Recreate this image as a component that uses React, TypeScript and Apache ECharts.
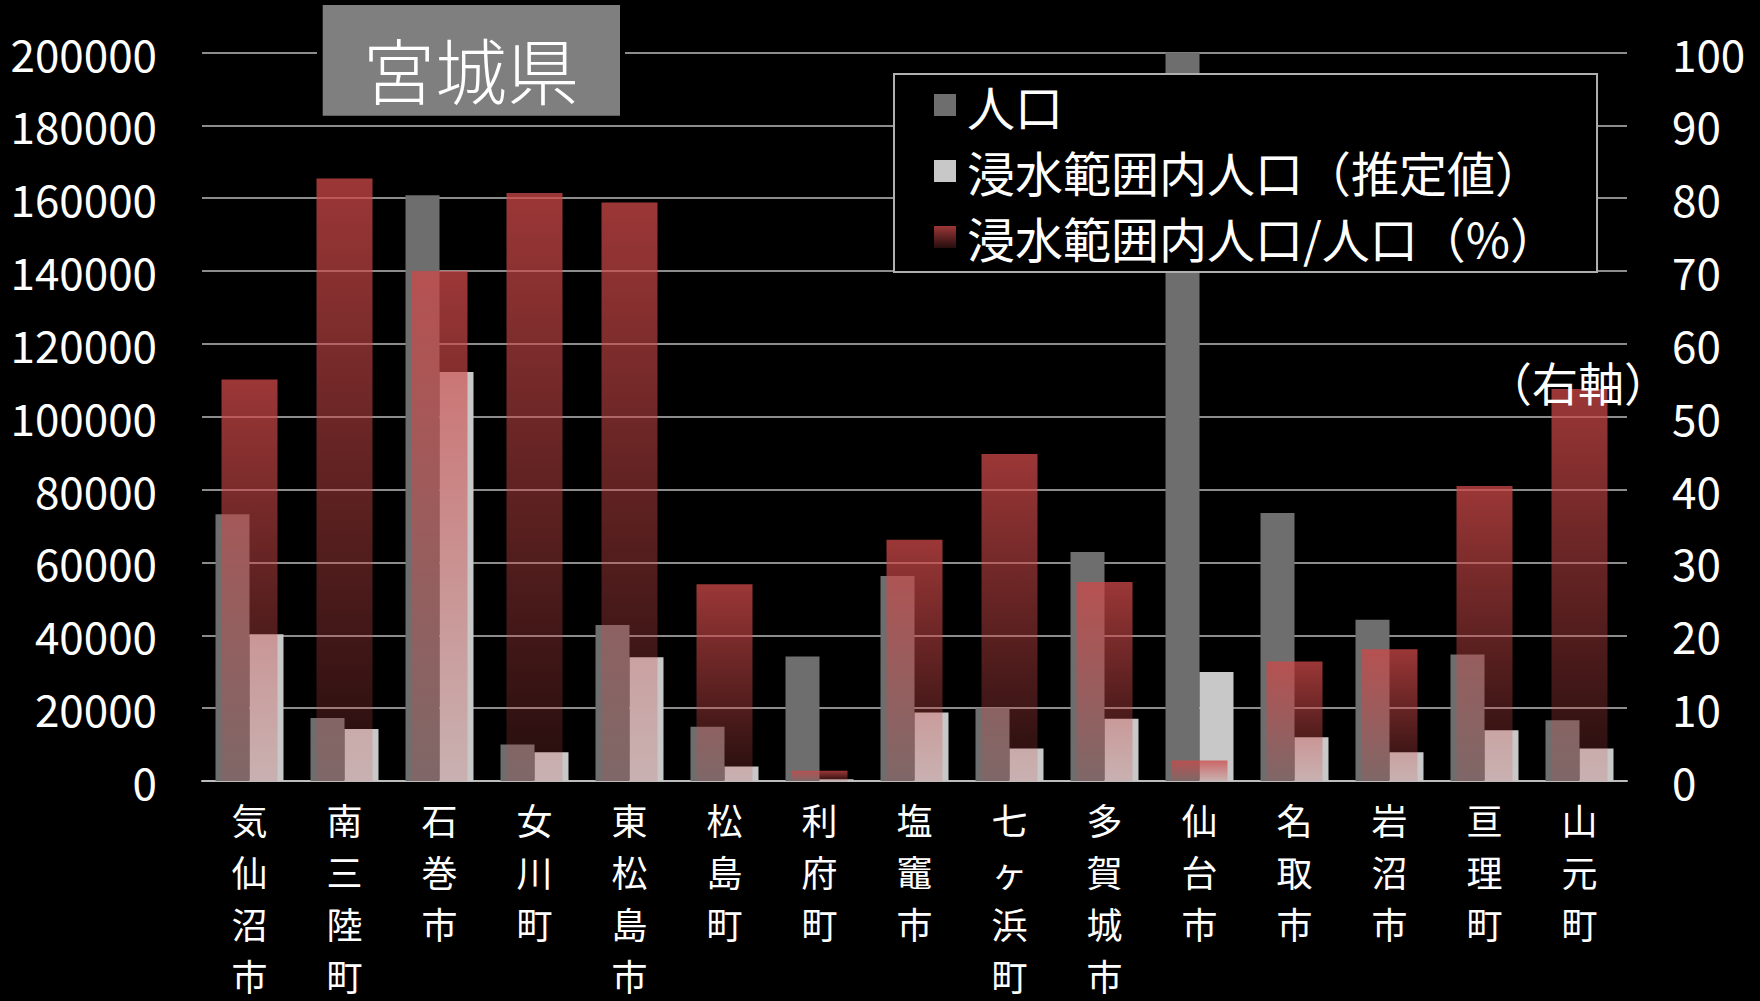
import React, { useEffect, useRef } from "react";
import * as echarts from "echarts";

const categories = ["気仙沼市", "南三陸町", "石巻市", "女川町", "東松島市", "松島町", "利府町", "塩竈市", "七ヶ浜町", "多賀城市", "仙台市", "名取市", "岩沼市", "亘理町", "山元町"];
const population = [73200, 17300, 160800, 10000, 42800, 14900, 34200, 56300, 20000, 62900, 1046000, 73600, 44300, 34700, 16700];
const inundated = [40300, 14300, 112300, 7900, 34000, 4000, 500, 18800, 8900, 17100, 29900, 12000, 7900, 13900, 8900];
const ratio = [55.1, 82.7, 70.0, 80.7, 79.4, 27.0, 1.4, 33.1, 44.9, 27.3, 2.8, 16.4, 18.1, 40.5, 53.8];
const leftTicks = { min: 0, max: 200000, interval: 20000 };
const rightTicks = { min: 0, max: 100, interval: 10 };
const seriesNames = ["人口", "浸水範囲内人口（推定値）", "浸水範囲内人口/人口（%）"];
const titleText = "宮城県";
const rightAxisNote = "（右軸）";

const FONT = "'Noto Sans CJK JP', 'Noto Sans', sans-serif";

export default function App() {
  const ref = useRef<HTMLDivElement>(null);
  useEffect(() => {
    document.body.style.margin = "0";
    const chart = echarts.init(ref.current!, null, { renderer: "svg" });
    const redGrad = new echarts.graphic.LinearGradient(0, 0, 0, 1, [
      { offset: 0, color: "rgba(205,72,72,0.76)" },
      { offset: 1, color: "rgba(205,72,72,0.18)" },
    ]);
    chart.setOption({
      animation: false,
      backgroundColor: "#000000",
      textStyle: { fontFamily: FONT },
      grid: { left: 202, right: 133, top: 52.5, bottom: 220, containLabel: false },
      legend: {
        orient: "vertical",
        left: 894,
        top: 74,
        padding: [7, 39, 11, 40],
        itemGap: 18,
        itemWidth: 22,
        itemHeight: 22,
        icon: "rect",
        backgroundColor: "#000000",
        borderColor: "#b0b0b0",
        borderWidth: 2,
        borderRadius: 0,
        z: 20,
        textStyle: { color: "#ffffff", fontSize: 48, lineHeight: 44, fontFamily: FONT, padding: [0, 0, 0, 6] },
        data: seriesNames,
      },
      xAxis: [
        {
          type: "category",
          data: categories,
          axisLine: { show: true, lineStyle: { color: "#bdbdbd", width: 2 } },
          axisTick: { show: false },
          axisLabel: {
            color: "#ffffff",
            fontSize: 36,
            lineHeight: 52,
            margin: 12,
            interval: 0,
            fontFamily: FONT,
            formatter: (v: string) => v.split("").join("\n"),
          },
          splitLine: { show: false },
        },
        {
          type: "category",
          data: categories,
          show: false,
        },
      ],
      yAxis: [
        {
          type: "value",
          ...leftTicks,
          axisLine: { show: false },
          axisTick: { show: false },
          axisLabel: { color: "#ffffff", fontSize: 44, margin: 45, fontFamily: FONT, formatter: (v: number) => String(v) },
          splitLine: { show: true, lineStyle: { color: "#8c8c8c", width: 2 } },
        },
        {
          type: "value",
          position: "right",
          ...rightTicks,
          axisLine: { show: false },
          axisTick: { show: false },
          axisLabel: { color: "#ffffff", fontSize: 44, margin: 45, fontFamily: FONT, formatter: (v: number) => String(v) },
          splitLine: { show: false },
        },
      ],
      series: [
        {
          name: seriesNames[0],
          type: "bar",
          data: population,
          xAxisIndex: 0,
          yAxisIndex: 0,
          barWidth: 34,
          barGap: "0%",
          clip: true,
          itemStyle: { color: "#6e6e6e" },
        },
        {
          name: seriesNames[1],
          type: "bar",
          data: inundated,
          xAxisIndex: 0,
          yAxisIndex: 0,
          barWidth: 34,
          barGap: "0%",
          clip: true,
          itemStyle: { color: "#c8c8c8" },
        },
        {
          name: seriesNames[2],
          type: "bar",
          data: ratio,
          xAxisIndex: 1,
          yAxisIndex: 1,
          barWidth: 56,
          clip: true,
          itemStyle: { color: redGrad },
        },
      ],
      graphic: [
        { type: "rect", z: 30, shape: { x: 317, y: 0, width: 308, height: 121 }, style: { fill: "#000000" } },
        { type: "rect", z: 31, shape: { x: 322.7, y: 5, width: 297.3, height: 110.7 }, style: { fill: "#7f7f7f" } },
        {
          type: "text",
          z: 32,
          x: 471,
          y: 67,
          style: { text: titleText, fill: "#ffffff", fontSize: 72, fontWeight: 300, fontFamily: FONT, align: "center", verticalAlign: "middle" },
        },
        {
          type: "text",
          z: 32,
          x: 1578,
          y: 381,
          style: { text: rightAxisNote, fill: "#ffffff", fontSize: 46, fontFamily: FONT, align: "center", verticalAlign: "middle" },
        },
      ],
    });
    return () => chart.dispose();
  }, []);
  return <div ref={ref} style={{ position: "fixed", left: 0, top: 0, width: 1760, height: 1001, background: "#000" }} />;
}
